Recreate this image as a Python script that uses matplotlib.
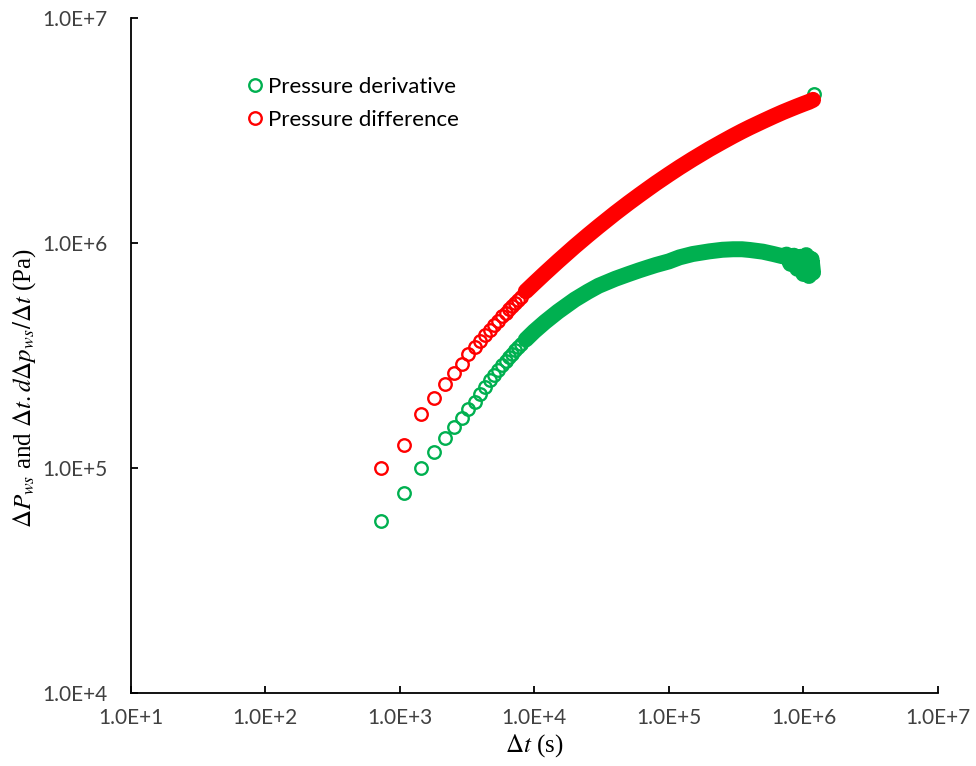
import math
import matplotlib
matplotlib.use('Agg')
import matplotlib.pyplot as plt
from matplotlib.ticker import FixedLocator, FuncFormatter, NullLocator

plt.rcParams['font.family'] = ['Lato', 'DejaVu Sans']
plt.rcParams['mathtext.fontset'] = 'stix'

green = '#00B050'
red = '#FF0000'

# early shut-in points (every 360 s)
dt_early = [720, 1080, 1440, 1800, 2160, 2520, 2880, 3240, 3600, 3960, 4320,
            4680, 5040, 5400, 5760, 6120, 6480, 6840, 7200, 7560, 7920]
dp_early = [1.00e5, 1.267e5, 1.74e5, 2.056e5, 2.359e5, 2.656e5, 2.903e5,
            3.206e5, 3.448e5, 3.681e5, 3.907e5, 4.117e5, 4.328e5, 4.527e5,
            4.722e5, 4.904e5, 5.088e5, 5.263e5, 5.433e5, 5.603e5, 5.766e5]
der_early = [5.84e4, 7.73e4, 9.98e4, 1.183e5, 1.357e5, 1.519e5, 1.665e5,
             1.825e5, 1.973e5, 2.135e5, 2.301e5, 2.465e5, 2.605e5, 2.742e5,
             2.873e5, 2.997e5, 3.119e5, 3.229e5, 3.34e5, 3.448e5, 3.548e5]

# late time, points so dense they merge into a band
dt_late = [8640, 1.0e4, 1.2e4, 1.5e4, 2e4, 2.5e4, 3e4, 4e4, 5e4, 6e4, 7e4,
           8e4, 1e5, 1.2e5, 1.5e5, 2e5, 2.5e5, 3e5, 3.5e5, 4e5, 5e5, 6e5,
           7e5, 8e5, 9e5, 1e6, 1.1e6, 1.18e6]
dp_late = [6.11e5, 6.64e5, 7.355e5, 8.31e5, 9.68e5, 1.084e6, 1.186e6,
           1.361e6, 1.507e6, 1.633e6, 1.745e6, 1.847e6, 2.022e6, 2.173e6,
           2.363e6, 2.62e6, 2.824e6, 2.998e6, 3.146e6, 3.274e6, 3.487e6,
           3.667e6, 3.82e6, 3.948e6, 4.062e6, 4.163e6, 4.253e6, 4.34e6]
dt_der_late = [8640, 1.0e4, 1.2e4, 1.5e4, 2e4, 2.5e4, 3e4, 4e4, 5e4, 6e4,
               7e4, 8e4, 1e5, 1.2e5, 1.5e5, 2e5, 2.5e5, 3e5, 3.5e5, 4e5,
               5e5, 6e5, 7e5, 7.5e5, 8e5, 8.5e5, 9e5, 9.5e5, 1e6, 1.05e6,
               1.1e6, 1.15e6, 1.18e6]
der_late = [3.727e5, 4.058e5, 4.463e5, 4.964e5, 5.615e5, 6.086e5, 6.464e5,
            6.946e5, 7.288e5, 7.57e5, 7.8e5, 8.0e5, 8.3e5, 8.65e5,
            8.95e5, 9.2e5, 9.35e5, 9.4e5, 9.4e5, 9.33e5, 9.17e5,
            8.95e5, 8.75e5, 8.9e5, 8.1e5, 8.8e5, 7.7e5, 8.7e5,
            7.3e5, 8.85e5, 7.15e5, 8.5e5, 7.4e5]
# stray derivative point at the very end
dt_der_last = [1.2e6]
der_last = [4.6e6]

fig = plt.figure(figsize=(9.76, 7.66), dpi=100)
ax = fig.add_axes([0.1339, 0.0953, 0.8271, 0.8808])
ax.set_xscale('log')
ax.set_yscale('log')

mk = dict(ls='none', marker='o', ms=9, mew=1.7, mfc='none')
band = dict(lw=11.5, solid_capstyle='round', solid_joinstyle='round')

h1, = ax.plot(dt_early, der_early, mec=green, label='Pressure derivative', **mk)
ax.plot(dt_der_late, der_late, color=green, **band)
ax.plot(dt_der_last, der_last, mec=green, **mk)
h2, = ax.plot(dt_early, dp_early, mec=red, label='Pressure difference', **mk)
ax.plot(dt_late, dp_late, color=red, **band)

ax.set_xlim(1e1, 1e7)
ax.set_ylim(1e4, 1e7)
fmt = FuncFormatter(lambda v, p: '1.0E+%d' % round(math.log10(v)))
ax.xaxis.set_major_locator(FixedLocator([1e1, 1e2, 1e3, 1e4, 1e5, 1e6, 1e7]))
ax.yaxis.set_major_locator(FixedLocator([1e4, 1e5, 1e6, 1e7]))
ax.xaxis.set_major_formatter(fmt)
ax.yaxis.set_major_formatter(fmt)
ax.xaxis.set_minor_locator(NullLocator())
ax.yaxis.set_minor_locator(NullLocator())

for s in ['top', 'right']:
    ax.spines[s].set_visible(False)
for s in ['left', 'bottom']:
    ax.spines[s].set_linewidth(1.3)
ax.tick_params(direction='in', length=5, width=1.3, labelsize=15, colors='#000000')
ax.tick_params(axis='x', pad=11)
ax.tick_params(axis='y', pad=17)
for t in ax.get_xticklabels() + ax.get_yticklabels():
    t.set_color('#404040')

ax.set_xlabel(r'$\Delta t$ (s)', family='Liberation Serif', fontsize=18, va='center')
ax.set_ylabel(r'$\Delta P_{ws}$ and $\Delta t{.}d\Delta p_{ws}/\Delta t$ (Pa)',
              family='Liberation Serif', fontsize=18, va='center')
ax.xaxis.set_label_coords(0.5, -0.0786)
ax.yaxis.set_label_coords(-0.131, 0.452)

ax.legend(handles=[h1, h2], loc='upper left', bbox_to_anchor=(0.1428, 0.9134),
          frameon=False, fontsize=16, handlelength=0.8, handletextpad=0.2,
          labelspacing=0.6, borderaxespad=0, borderpad=0)

fig.savefig('out.png', dpi=100)
